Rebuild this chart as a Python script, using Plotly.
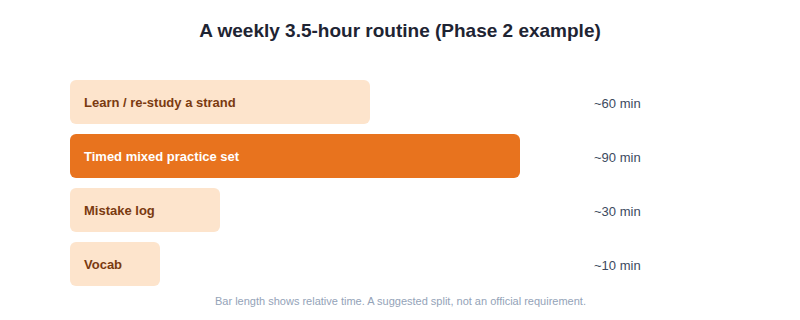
import plotly.graph_objects as go

categories = ["Learn / re-study a strand", "Timed mixed practice set", "Mistake log", "Vocab"]
minutes = [60, 90, 30, 10]
value_labels = ["~60 min", "~90 min", "~30 min", "~10 min"]
highlight = [False, True, False, False]

LIGHT = "#FDE4CC"
DARK = "#E8731E"
FONT = "Liberation Sans, Arial, sans-serif"

max_min = max(minutes)
floor = 0.2 * max_min
display_len = [max(m, floor) for m in minutes]
colors = [DARK if h else LIGHT for h in highlight]
x_max = max_min * 570 / 450

fig = go.Figure()
# right part (overlapping): rounded at right end
fig.add_trace(go.Bar(
    x=[d * 0.7 for d in display_len], base=[d * 0.3 for d in display_len],
    y=categories, orientation="h",
    marker=dict(color=colors, cornerradius=6, line=dict(width=0)),
    width=44 / 54, hoverinfo="skip",
))
# left part: negative bar, rounded at left end
fig.add_trace(go.Bar(
    x=[-d * 0.7 for d in display_len], base=[d * 0.7 for d in display_len],
    y=categories, orientation="h",
    marker=dict(color=colors, cornerradius=6, line=dict(width=0)),
    width=44 / 54, hoverinfo="skip",
))

annotations = []
for cat, h in zip(categories, highlight):
    annotations.append(dict(
        x=0, y=cat, xref="x", yref="y", text="<b>" + cat + "</b>",
        showarrow=False, xanchor="left", yanchor="middle", xshift=12,
        font=dict(family=FONT, size=13, color="#FFFFFF" if h else "#7A3A10"),
    ))
for cat, lab in zip(categories, value_labels):
    annotations.append(dict(
        x=x_max, y=cat, xref="x", yref="y", text=lab,
        showarrow=False, xanchor="right", yanchor="middle", xshift=3, yshift=-1,
        font=dict(family=FONT, size=13, color="#3C4A5E"),
    ))
annotations.append(dict(
    x=(400 - 70) / 570, y=-(301 - 291) / 216, xref="paper", yref="paper",
    showarrow=False, xanchor="center", yanchor="middle",
    text="Bar length shows relative time. A suggested split, not an official requirement.",
    font=dict(family=FONT, size=11, color="#94A3B8"),
))

fig.update_layout(
    width=800, height=320,
    margin=dict(l=70, r=160, t=75, b=29),
    paper_bgcolor="white", plot_bgcolor="white",
    barmode="overlay",
    title=dict(text="<b>A weekly 3.5-hour routine (Phase 2 example)</b>",
               x=0.5, xanchor="center", y=1 - 30 / 320, yanchor="middle",
               font=dict(family=FONT, size=19, color="#1E2433")),
    xaxis=dict(range=[0, x_max], visible=False, fixedrange=True),
    yaxis=dict(visible=False, autorange=False, range=[3.5, -0.5], fixedrange=True,
               categoryorder="array", categoryarray=categories),
    showlegend=False,
    annotations=annotations,
)
fig.write_html("out.html")
